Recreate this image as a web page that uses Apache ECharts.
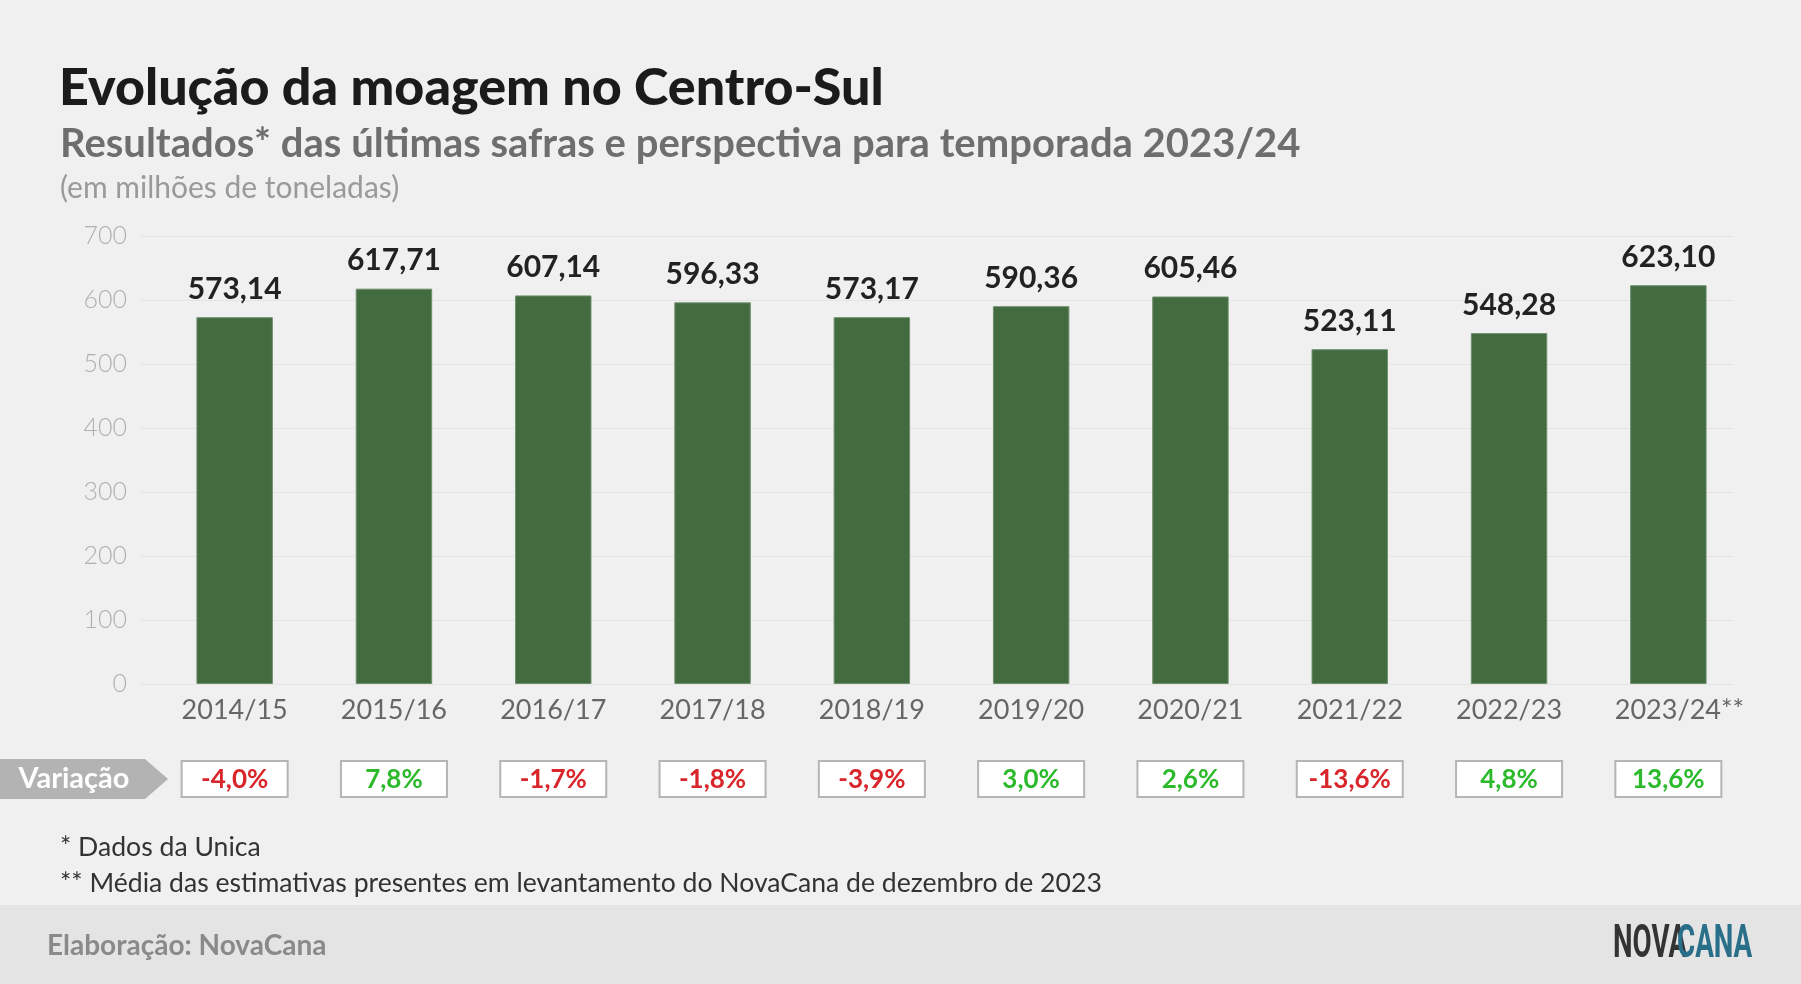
<!DOCTYPE html>
<html>
<head>
<meta charset="utf-8">
<script src="https://cdn.jsdelivr.net/npm/echarts@6/dist/echarts.min.js"></script>
<style>
  html, body { margin: 0; padding: 0; background: #f0f0f0; }
  #chart { width: 1801px; height: 984px; }
</style>
</head>
<body>
<div id="chart"></div>
<script>
// dados da moagem (milhões de toneladas)
var safras = ["2014/15", "2015/16", "2016/17", "2017/18", "2018/19", "2019/20", "2020/21", "2021/22", "2022/23", "2023/24**"];
var moagem = [573.14, 617.71, 607.14, 596.33, 573.17, 590.36, 605.46, 523.11, 548.28, 623.10];
var variacao = [-4.0, 7.8, -1.7, -1.8, -3.9, 3.0, 2.6, -13.6, 4.8, 13.6];
var yTicks = [0, 100, 200, 300, 400, 500, 600, 700];

var FONT = "Lato, 'Open Sans', sans-serif";

function virgula(v, casas) {
  return v.toFixed(casas).replace(".", ",");
}

(function () {
  var myChart = echarts.init(document.getElementById("chart"));

  var option = {
    backgroundColor: "#f0f0f0",
    animation: false,
    title: [
      {
        text: "Evolução da moagem no Centro-Sul",
        left: 59, top: 62, padding: 0,
        textStyle: { fontFamily: FONT, fontWeight: 900, fontSize: 52, color: "#1b1b1b" }
      },
      {
        text: "Resultados* das últimas safras e perspectiva para temporada 2023/24",
        left: 60, top: 124, padding: 0,
        textStyle: { fontFamily: FONT, fontWeight: 700, fontSize: 40, color: "#6e6e6e" }
      },
      {
        text: "(em milhões de toneladas)",
        left: 60, top: 173, padding: 0,
        textStyle: { fontFamily: FONT, fontWeight: 400, fontSize: 30, color: "#9a9a9a" }
      }
    ],
    // grid 0: linhas de grade e eixo y; grid 1: barras
    grid: [
      { left: 140, right: 68, top: 236, bottom: 300 },
      { left: 155, right: 53, top: 236, bottom: 300 }
    ],
    xAxis: [
      { type: "category", gridIndex: 0, data: safras, show: false },
      {
        type: "category", gridIndex: 1, data: safras,
        axisLine: { show: false }, axisTick: { show: false },
        axisLabel: {
          fontFamily: FONT, fontSize: 27, color: "#666", margin: 13, interval: 0,
          // "**" fica pendurado à direita, o ano continua centrado
          formatter: function (v) {
            var i = v.indexOf("*");
            if (i < 0) return v;
            return "{ano|" + v.slice(0, i) + "}" + v.slice(i);
          },
          rich: { ano: { fontFamily: FONT, fontSize: 27, color: "#666", padding: [0, 0, 0, 22] } }
        }
      }
    ],
    yAxis: [
      {
        type: "value", gridIndex: 0, min: 0, max: yTicks[yTicks.length - 1], interval: 100,
        axisLine: { show: false }, axisTick: { show: false },
        axisLabel: { fontFamily: FONT, fontWeight: 300, fontSize: 25, color: "#b0b0b0", margin: 13 },
        splitLine: { lineStyle: { color: "#e4e4e4", width: 1 } }
      },
      {
        type: "value", gridIndex: 1, min: 0, max: yTicks[yTicks.length - 1], interval: 100,
        show: false, splitLine: { show: false }
      }
    ],
    series: [
      {
        type: "bar",
        xAxisIndex: 1, yAxisIndex: 1,
        data: moagem,
        barWidth: "48%",
        itemStyle: { color: "#436b40", borderColor: "#6f8f6c", borderWidth: 1 },
        label: {
          show: true, position: "top", distance: 13,
          fontFamily: FONT, fontWeight: 700, fontSize: 30, color: "#222",
          formatter: function (p) { return virgula(p.value, 2); }
        }
      }
    ]
  };

  myChart.setOption(option);

  // linha de variação, rodapé e logotipo
  var graficos = [
    {
      type: "polygon",
      shape: { points: [[0, 759], [145, 759], [168, 779], [145, 799], [0, 799]] },
      style: { fill: "#b3b3b3" }
    },
    {
      type: "text", x: 74, y: 779,
      style: { text: "Variação", fill: "#fff", font: "700 29px " + FONT, align: "center", verticalAlign: "middle" }
    },
    {
      type: "text", x: 60, y: 847,
      style: { text: "* Dados da Unica", fill: "#333", font: "400 26.6px " + FONT, verticalAlign: "middle" }
    },
    {
      type: "text", x: 60, y: 883,
      style: { text: "** Média das estimativas presentes em levantamento do NovaCana de dezembro de 2023", fill: "#333", font: "400 26.6px " + FONT, verticalAlign: "middle" }
    },
    {
      type: "rect", shape: { x: 0, y: 905, width: 1801, height: 79 },
      style: { fill: "#e4e4e4" }
    },
    {
      type: "text", x: 47, y: 946,
      style: { text: "Elaboração: NovaCana", fill: "#8a8a8a", font: "700 28px " + FONT, verticalAlign: "middle" }
    },
    {
      type: "text", x: 1613, y: 945, scaleX: 0.59,
      style: { text: "NOVA", fill: "#333", font: "700 47px Roboto, sans-serif", verticalAlign: "middle" }
    },
    {
      type: "text", x: 1677, y: 945, scaleX: 0.59,
      style: { text: "CANA", fill: "#2a6f8a", font: "700 47px Roboto, sans-serif", verticalAlign: "middle" }
    }
  ];

  variacao.forEach(function (v, i) {
    var cx = myChart.convertToPixel({ xAxisIndex: 1 }, safras[i]);
    graficos.push({
      type: "rect",
      shape: { x: cx - 53, y: 761, width: 106, height: 36 },
      style: { fill: "#fff", stroke: "#b5b5b5", lineWidth: 2 }
    });
    graficos.push({
      type: "text", x: cx, y: 780,
      style: {
        text: virgula(v, 1) + "%",
        fill: v < 0 ? "#d8262b" : "#2cba2c",
        font: "700 26px " + FONT, align: "center", verticalAlign: "middle"
      }
    });
  });

  myChart.setOption({ graphic: graficos });

  window.addEventListener("resize", function () {
    myChart.resize();
  });
})();
</script>
</body>
</html>
